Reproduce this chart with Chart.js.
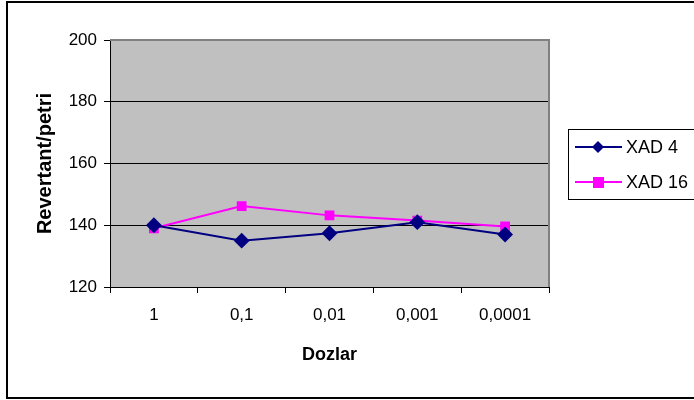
<!DOCTYPE html>
<html>
<head>
<meta charset="utf-8">
<script src="https://cdn.jsdelivr.net/npm/chart.js@4/dist/chart.umd.min.js"></script>
<style>
  html, body { margin: 0; padding: 0; background: #fff; }
  #wrap { width: 694px; height: 400px; position: relative; }
</style>
</head>
<body>
<div id="wrap"><canvas id="c" width="694" height="400"></canvas></div>
<script>
// Doses (x categories) and revertant counts per plate for each resin extract
const doses = ['1', '0,1', '0,01', '0,001', '0,0001'];
const xad4 = [140, 135, 137.4, 141, 137];
const xad16 = [139, 146.2, 143.2, 141.5, 139.6];
const yTicks = [120, 140, 160, 180, 200];

const FONT = 'Liberation Sans, Arial, sans-serif';

// Gray plot background with a gray frame on top/right
const plotBackground = {
  id: 'plotBackground',
  beforeDraw(chart) {
    const { ctx, chartArea: a } = chart;
    ctx.save();
    ctx.fillStyle = '#C0C0C0';
    ctx.fillRect(a.left, a.top, a.right - a.left, a.bottom - a.top);
    ctx.restore();
  },
  beforeDatasetsDraw(chart) {
    const { ctx, chartArea: a } = chart;
    ctx.save();
    ctx.strokeStyle = '#808080';
    ctx.lineWidth = 2;
    ctx.beginPath();
    ctx.moveTo(a.left, a.top);
    ctx.lineTo(a.right, a.top);
    ctx.lineTo(a.right, a.bottom);
    ctx.stroke();
    ctx.restore();
  }
};

// Boxed legend on the right plus the outer chart frame
const boxedLegend = {
  id: 'boxedLegend',
  afterDraw(chart) {
    const { ctx } = chart;
    ctx.save();
    ctx.strokeStyle = '#000';
    ctx.lineWidth = 1;
    ctx.strokeRect(568.5, 129.5, 140, 70);
    chart.data.datasets.forEach((ds, i) => {
      const y = 147 + i * 35;
      ctx.strokeStyle = ds.borderColor;
      ctx.lineWidth = 2;
      ctx.beginPath();
      ctx.moveTo(575, y);
      ctx.lineTo(622, y);
      ctx.stroke();
      ctx.fillStyle = ds.backgroundColor;
      ctx.beginPath();
      if (ds.pointStyle === 'rectRot') {
        ctx.moveTo(598, y - 6);
        ctx.lineTo(604, y);
        ctx.lineTo(598, y + 6);
        ctx.lineTo(592, y);
        ctx.closePath();
      } else {
        ctx.rect(593, y - 5, 11, 11);
      }
      ctx.fill();
      ctx.fillStyle = '#000';
      ctx.font = '18px ' + FONT;
      ctx.textBaseline = 'middle';
      ctx.textAlign = 'left';
      ctx.fillText(ds.label, 626, y + 1);
    });
    // outer frame
    ctx.strokeStyle = '#000';
    ctx.lineWidth = 2;
    ctx.strokeRect(7, 2, 700, 396);
    ctx.restore();
  }
};

new Chart(document.getElementById('c'), {
  type: 'line',
  data: {
    labels: doses,
    datasets: [
      {
        label: 'XAD 4',
        data: xad4,
        borderColor: '#000080',
        backgroundColor: '#000080',
        borderWidth: 2,
        pointStyle: 'rectRot',
        pointRadius: 6.5,
        pointHoverRadius: 6.5,
        tension: 0
      },
      {
        label: 'XAD 16',
        data: xad16,
        borderColor: '#FF00FF',
        backgroundColor: '#FF00FF',
        borderWidth: 2,
        pointStyle: 'rect',
        pointRadius: 5.5,
        pointHoverRadius: 5.5,
        tension: 0
      }
    ]
  },
  options: {
    responsive: false,
    animation: false,
    events: [],
    layout: { padding: { left: 0, top: 40, right: 145, bottom: 0 } },
    plugins: { legend: { display: false }, tooltip: { enabled: false } },
    scales: {
      x: {
        offset: true,
        afterFit(scale) { scale.height = 113; },
        grid: { offset: true, drawOnChartArea: false, drawTicks: true, tickLength: 6, color: '#000', tickColor: '#000' },
        border: { color: '#000', width: 1 },
        ticks: { color: '#000', font: { family: FONT, size: 17 }, padding: 12, maxRotation: 0 },
        title: { display: true, text: 'Dozlar', color: '#000', font: { family: FONT, size: 18, weight: 'bold' }, padding: { top: 0, bottom: 34 } }
      },
      y: {
        min: 120,
        max: 200,
        afterFit(scale) { scale.width = 110; },
        afterBuildTicks(scale) { scale.ticks = yTicks.map(v => ({ value: v })); },
        grid: {
          color: ctx => (ctx.tick && ctx.tick.value === 200 ? 'rgba(0,0,0,0)' : '#000'),
          tickColor: '#000',
          lineWidth: 1,
          tickLength: 6
        },
        border: { color: '#000', width: 1 },
        ticks: { color: '#000', font: { family: FONT, size: 17 }, padding: 7 },
        title: { display: true, text: 'Revertant/petri', color: '#000', font: { family: FONT, size: 20, weight: 'bold' }, padding: { top: 33, bottom: 0 } }
      }
    }
  },
  plugins: [plotBackground, boxedLegend]
});
</script>
</body>
</html>
